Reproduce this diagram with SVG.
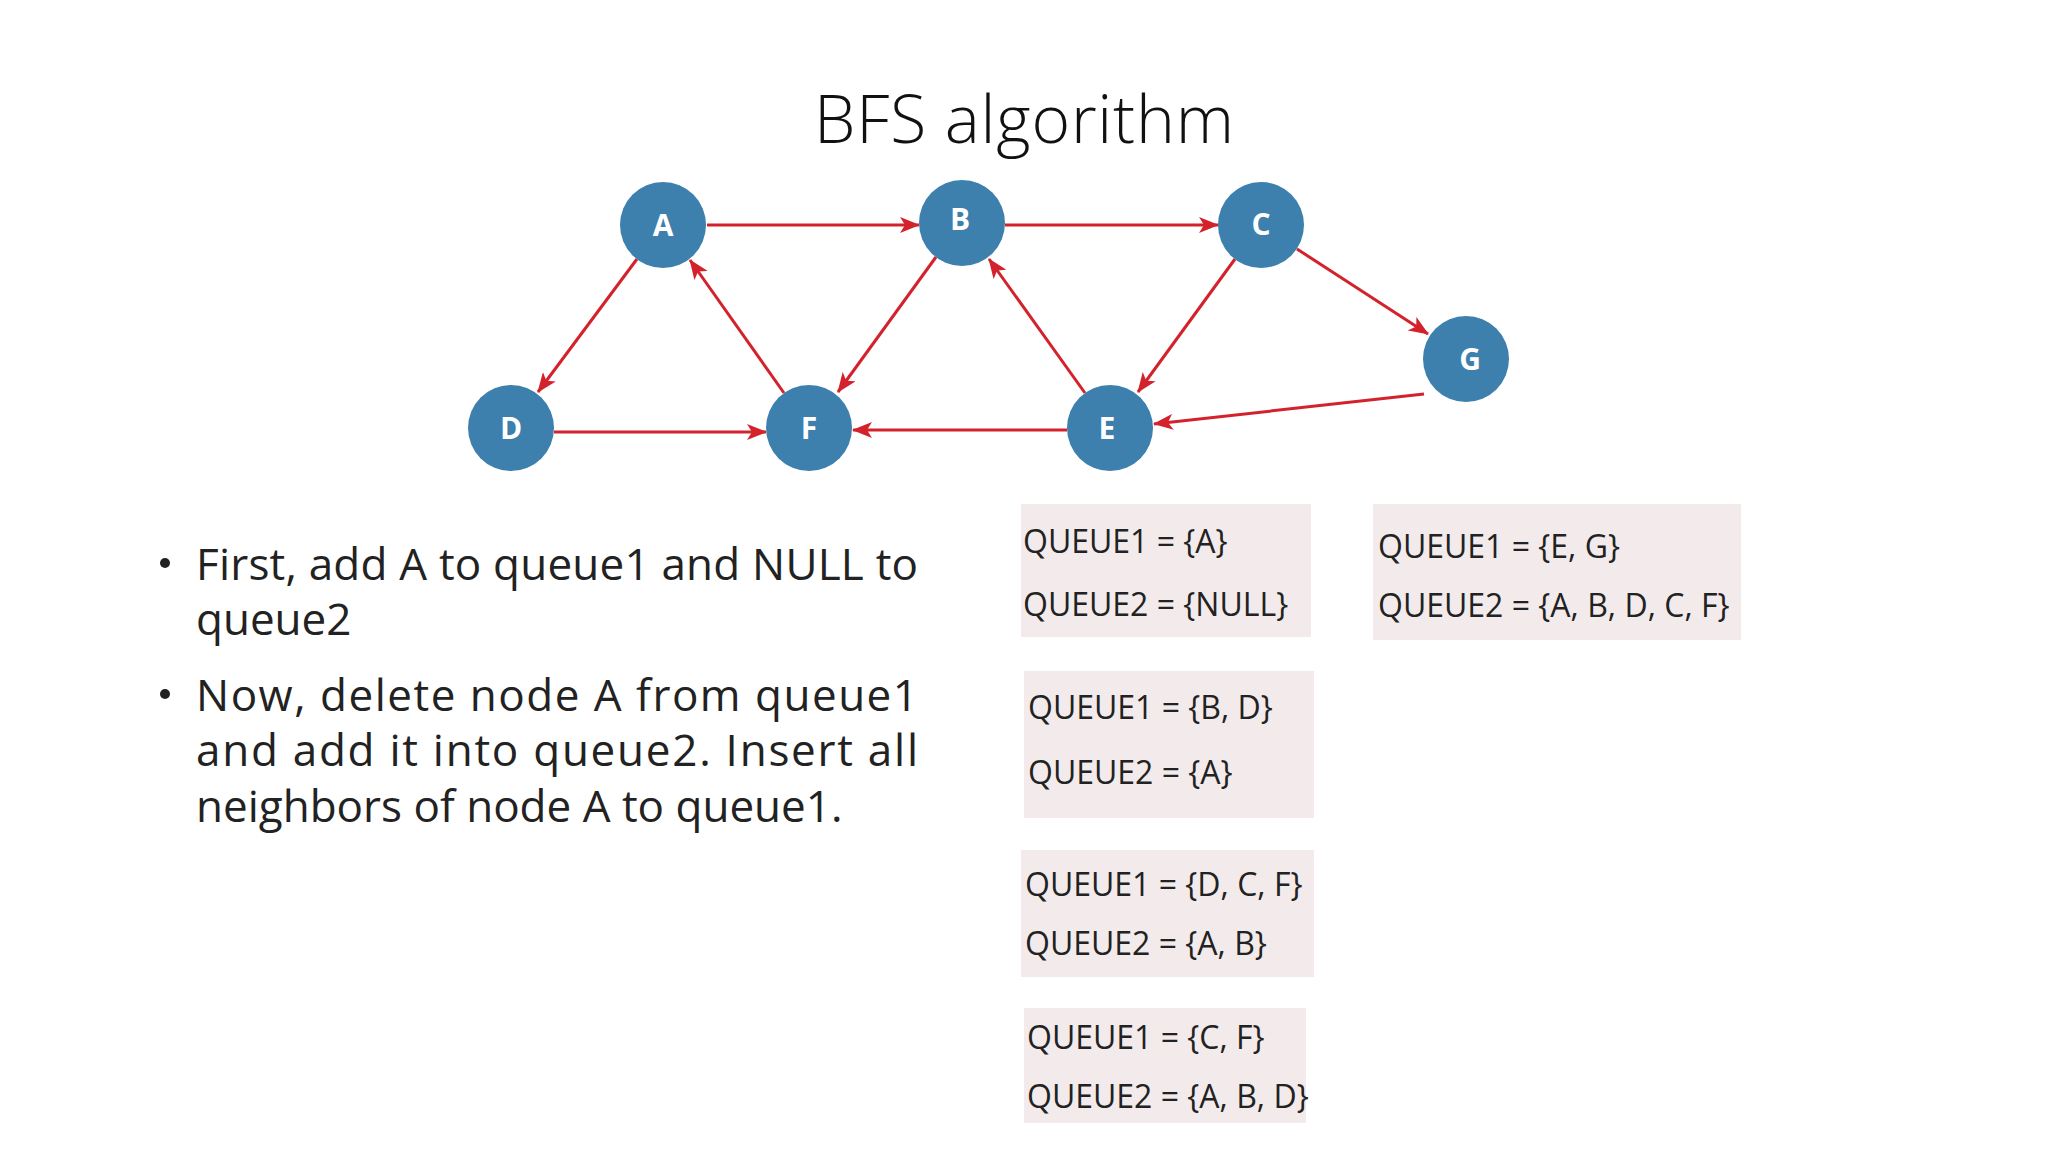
<svg xmlns="http://www.w3.org/2000/svg" width="2048" height="1152" viewBox="0 0 2048 1152">
<style>
.n circle{fill:#3d80ae}
.n text{fill:#fff;font-family:"Open Sans",sans-serif;font-weight:bold;font-size:30px;text-anchor:middle}
.e line{stroke:#d3222c;stroke-width:3}
.q rect{fill:#f3ebeb}
.q text{font-family:"Open Sans","Liberation Sans",sans-serif;font-size:32px;fill:#222}
.b{font-family:"Open Sans","Liberation Sans",sans-serif;font-size:44px;fill:#222}
</style>
<defs><marker id="ah" viewBox="0 0 20 16" refX="19" refY="8" markerWidth="20" markerHeight="16" markerUnits="userSpaceOnUse" orient="auto"><path d="M0,0 L20,8 L0,16 L5,8 Z" fill="#d3222c"/></marker></defs>
<rect width="2048" height="1152" fill="#fff"/>
<text x="1024" y="143" text-anchor="middle" font-family="'Open Sans',sans-serif" font-weight="300" font-size="66" textLength="420" fill="#111">BFS algorithm</text>
<g class="e" marker-end="url(#ah)">
<line x1="707" y1="225" x2="919" y2="225" marker-end="url(#ah)"/>
<line x1="1005" y1="225" x2="1218" y2="225" marker-end="url(#ah)"/>
<line x1="1297" y1="249" x2="1428" y2="334" marker-end="url(#ah)"/>
<line x1="637" y1="259" x2="538" y2="392" marker-end="url(#ah)"/>
<line x1="784" y1="393" x2="690" y2="260" marker-end="url(#ah)"/>
<line x1="936" y1="257" x2="838" y2="392" marker-end="url(#ah)"/>
<line x1="1085" y1="393" x2="989" y2="259" marker-end="url(#ah)"/>
<line x1="1235" y1="259" x2="1138" y2="392" marker-end="url(#ah)"/>
<line x1="1424" y1="394" x2="1154" y2="424" marker-end="url(#ah)"/>
<line x1="1067" y1="430" x2="853" y2="430" marker-end="url(#ah)"/>
<line x1="554" y1="432" x2="766" y2="432" marker-end="url(#ah)"/>
</g>
<g id="A" class="n"><circle cx="663" cy="225" r="43"/><text x="663" y="236">A</text></g>
<g id="B" class="n"><circle cx="962" cy="223" r="43"/><text x="960" y="230">B</text></g>
<g id="C" class="n"><circle cx="1261" cy="225" r="43"/><text x="1261" y="235">C</text></g>
<g id="G" class="n"><circle cx="1466" cy="359" r="43"/><text x="1470" y="370">G</text></g>
<g id="D" class="n"><circle cx="511" cy="428" r="43"/><text x="511" y="439">D</text></g>
<g id="F" class="n"><circle cx="809" cy="428" r="43"/><text x="809" y="439">F</text></g>
<g id="E" class="n"><circle cx="1110" cy="428" r="43"/><text x="1107" y="439">E</text></g>
<circle cx="165" cy="563" r="5" fill="#222"/>
<circle cx="165" cy="694" r="5" fill="#222"/>
<text class="b" x="196" y="580" textLength="722" lengthAdjust="spacing">First, add A to queue1 and NULL to</text>
<text class="b" x="196" y="635">queue2</text>
<text class="b" x="196" y="711" textLength="722" lengthAdjust="spacing">Now, delete node A from queue1</text>
<text class="b" x="196" y="766" textLength="722" lengthAdjust="spacing">and add it into queue2. Insert all</text>
<text class="b" x="196" y="822">neighbors of node A to queue1.</text>
<g id="q1" class="q"><rect x="1021" y="504" width="290" height="133"/><text x="1023" y="553">QUEUE1 = {A}</text><text x="1023" y="616">QUEUE2 = {NULL}</text></g>
<g id="q2" class="q"><rect x="1024" y="671" width="290" height="147"/><rect x="1024" y="816" width="290" height="2" fill="#ddd"/><text x="1028" y="719">QUEUE1 = {B, D}</text><text x="1028" y="784">QUEUE2 = {A}</text></g>
<g id="q3" class="q"><rect x="1021" y="850" width="293" height="127"/><text x="1025" y="896">QUEUE1 = {D, C, F}</text><text x="1025" y="955">QUEUE2 = {A, B}</text></g>
<g id="q4" class="q"><rect x="1024" y="1008" width="282" height="115"/><text x="1027" y="1049">QUEUE1 = {C, F}</text><text x="1027" y="1108">QUEUE2 = {A, B, D}</text></g>
<g id="q5" class="q"><rect x="1373" y="504" width="368" height="136"/><text x="1378" y="558">QUEUE1 = {E, G}</text><text x="1378" y="617">QUEUE2 = {A, B, D, C, F}</text></g>
</svg>
